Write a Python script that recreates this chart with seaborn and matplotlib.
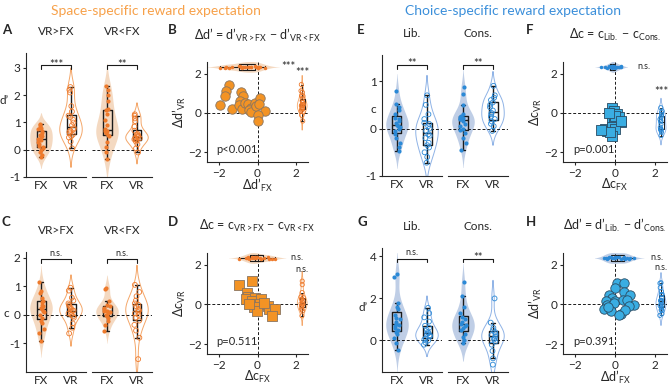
import numpy as np
import pandas as pd
import seaborn as sns
import matplotlib.pyplot as plt

sns.set_theme(style="ticks")
plt.rcParams["font.family"] = ["Lato", "DejaVu Sans"]
plt.rcParams["mathtext.fontset"] = "custom"
plt.rcParams["mathtext.rm"] = "Lato"
plt.rcParams["mathtext.it"] = "Lato"
plt.rcParams["mathtext.fallback"] = "stixsans"
plt.rcParams["axes.linewidth"] = 0.8
np.random.seed(3)  # jitter only

# ---- data ----
# A: d' (space-specific)
a_gt_fx = [-0.28, -0.2, -0.1, 0.0, 0.05, 0.1, 0.15, 0.2, 0.3, 0.35, 0.4, 0.45, 0.5, 0.55, 0.6, 0.7, 0.75, 0.8, 0.85, 0.9, 0.95]
a_gt_vr = [0.05, 0.3, 0.45, 0.5, 0.55, 0.6, 0.65, 0.7, 0.75, 0.8, 0.9, 1.0, 1.1, 1.2, 1.25, 1.4, 1.6, 2.1, 2.2, 2.3]
a_lt_fx = [-0.35, -0.1, 0.1, 0.3, 0.5, 0.55, 0.6, 0.65, 0.7, 0.7, 0.75, 0.9, 1.1, 1.3, 1.45, 1.5, 1.8, 2.0, 2.2, 2.35]
a_lt_vr = [-0.1, 0.05, 0.2, 0.3, 0.35, 0.38, 0.4, 0.42, 0.45, 0.47, 0.5, 0.52, 0.55, 0.58, 0.7, 0.85, 1.05, 1.15, 1.25, 1.3]
# C: c (space-specific)
c_gt_fx = [-0.9, -0.65, -0.5, -0.3, -0.2, -0.1, 0.0, 0.1, 0.15, 0.2, 0.25, 0.3, 0.35, 0.45, 0.5, 0.6, 0.75, 0.85, 1.15]
c_gt_vr = [-0.65, -0.45, -0.3, -0.1, -0.05, 0.0, 0.05, 0.1, 0.15, 0.15, 0.2, 0.25, 0.3, 0.35, 0.4, 0.5, 0.6, 0.85, 0.95]
c_lt_fx = [-0.55, -0.35, -0.2, -0.1, -0.05, 0.0, 0.05, 0.1, 0.15, 0.15, 0.2, 0.25, 0.3, 0.35, 0.5, 0.9, 0.95]
c_lt_vr = [-1.55, -0.8, -0.55, -0.35, -0.2, -0.1, 0.0, 0.05, 0.1, 0.15, 0.2, 0.3, 0.35, 0.4, 0.5, 0.65, 0.8, 1.05]
# E: c (choice-specific)
e_lib_fx = [-0.48, -0.38, -0.3, -0.2, -0.12, -0.05, 0.0, 0.03, 0.05, 0.08, 0.12, 0.15, 0.2, 0.22, 0.3, 0.4, 0.45, 0.52, 0.8]
e_lib_vr = [-0.72, -0.6, -0.5, -0.4, -0.35, -0.3, -0.2, -0.15, -0.12, -0.05, 0.0, 0.05, 0.1, 0.12, 0.2, 0.3, 0.5, 0.7]
e_con_fx = [-0.45, -0.3, -0.2, -0.1, -0.03, 0.0, 0.05, 0.1, 0.15, 0.2, 0.2, 0.22, 0.25, 0.27, 0.3, 0.5, 0.72, 0.88]
e_con_vr = [-0.05, 0.05, 0.1, 0.15, 0.2, 0.25, 0.3, 0.33, 0.38, 0.45, 0.5, 0.55, 0.6, 0.65, 0.7, 0.9]
# G: d' (choice-specific)
g_lib_fx = [-0.45, -0.1, 0.1, 0.3, 0.4, 0.5, 0.6, 0.7, 0.75, 0.8, 0.9, 1.0, 1.05, 1.2, 1.5, 1.6, 1.8, 3.0, 3.15]
g_lib_vr = [-0.2, -0.1, 0.0, 0.05, 0.1, 0.2, 0.25, 0.3, 0.35, 0.4, 0.5, 0.6, 0.7, 0.9, 1.1, 1.3, 1.55]
g_con_fx = [-0.1, 0.0, 0.15, 0.3, 0.5, 0.6, 0.7, 0.75, 0.8, 0.9, 1.0, 1.1, 1.3, 1.6, 2.1, 2.8]
g_con_vr = [-1.15, -0.85, -0.5, -0.2, -0.05, 0.05, 0.1, 0.2, 0.25, 0.3, 0.4, 0.5, 0.6, 0.85, 2.0]

# B: delta d' (FX, VR)
b_dx = [-1.47, -1.61, -1.68, -1.93, -1.33, -0.87, -0.75, -0.9, -0.96, -0.82, -0.62, -0.48, -0.36, -0.44, -0.31, -0.14, -0.1, 0.15, 0.1, 0.41, 0.03, 0.03]
b_dy = [1.45, 1.13, 0.87, 0.39, 0.22, 1.05, 0.87, 0.62, 0.39, 0.22, 0.53, 0.44, 0.27, 0.15, 0.05, 0.53, 0.36, 0.75, 0.44, 0.1, -0.12, -0.41]
# D: delta c
d_dx = [-0.93, -0.27, -0.52, -0.47, -0.6, -0.13, -0.3, -0.1, 0.2, 0.15, -0.18, -0.02, 0.53, 0.57, 0.9, 0.73, -0.43, 0.32]
d_dy = [1.0, 1.18, 0.6, 0.38, 0.27, 0.35, 0.18, 0.02, 0.27, 0.02, -0.12, -0.32, -0.07, -0.23, -0.23, -0.57, 0.05, 0.1]
# F: delta c (choice)
f_dx = [-0.15, -0.07, 0.1, 0.18, -0.15, 0.32, -0.07, -0.52, -0.4, -0.15, 0.02, -0.15, -0.23, -0.02, -0.32, -0.7, 0.3]
f_dy = [0.27, 0.1, -0.07, -0.23, -0.32, -0.45, -0.57, -0.82, -0.9, -0.73, -0.82, -1.15, -0.98, -0.15, 0.02, -0.85, -0.4]
# H: delta d' (choice)
h_dx = [0.1, 0.47, -0.02, 0.43, -0.3, -0.15, 0.75, 0.02, -0.47, 0.4, 0.6, 0.97, -0.38, -0.07, 0.68, -0.55, -0.18, 0.32, 0.48, 0.18, -0.35]
h_dy = [1.1, 1.07, 0.85, 0.65, 0.5, 0.34, 0.5, 0.18, 0.18, 0.21, 0.21, -0.02, -0.02, 0.1, -0.07, -0.23, -0.31, -0.47, -0.28, -0.55, -0.15]

ORANGE = dict(fill="#fcd9b8", line="#f4a76a", dot="#ee7a2c", scatter="#f39324", edge="#8a7560", title="#f7a14a")
BLUE = dict(fill="#b9cdec", line="#8fb3e6", dot="#2b89d6", scatter="#3aade2", edge="#2a4c64", title="#3b8fda")
ORDER = ["FX", "VR"]
W, H = 669, 387

fig = plt.figure(figsize=(W / 100, H / 100), dpi=100)


def add_ax(x0, y0, x1, y1):
    return fig.add_axes([x0 / W, 1 - y1 / H, (x1 - x0) / W, (y1 - y0) / H])


def open_circles(ax, n0, color):
    for c in ax.collections[n0:]:
        c.set_facecolor("none")
        c.set_edgecolor(color)
        c.set_linewidth(0.6)


def pair(ax, fx, vr, pal, title, sig, sig_y, ylim, first, ylabel=None, yticks=None, lab_xy=None):
    d_fx = pd.DataFrame({"cond": "FX", "val": fx})
    d_vr = pd.DataFrame({"cond": "VR", "val": vr})
    both = pd.concat([d_fx, d_vr])
    sns.violinplot(data=d_fx, x="cond", y="val", order=ORDER, color=pal["fill"], linewidth=0,
                   inner=None, cut=2, width=0.75, ax=ax)
    sns.violinplot(data=d_vr, x="cond", y="val", order=ORDER, fill=False, color=pal["line"],
                   linewidth=0.7, inner=None, cut=2, width=0.75, ax=ax)
    sns.stripplot(data=d_fx, x="cond", y="val", order=ORDER, color=pal["dot"], size=3, jitter=0.1, ax=ax)
    n0 = len(ax.collections)
    sns.stripplot(data=d_vr, x="cond", y="val", order=ORDER, color=pal["dot"], size=3.5, jitter=0.1, ax=ax)
    open_circles(ax, n0, pal["dot"])
    sns.boxplot(data=both, x="cond", y="val", order=ORDER, fill=False, color="k", linecolor="k",
                linewidth=1, width=0.3, showfliers=False, ax=ax)
    ax.axhline(0, ls=(0, (3, 2)), color="k", lw=0.7)
    h = (ylim[1] - ylim[0]) * 0.03
    ax.plot([0, 0, 1, 1], [sig_y - h, sig_y, sig_y, sig_y - h], color="k", lw=0.8)
    if sig == "n.s.":
        ax.text(0.5, sig_y + h * 0.4, sig, ha="center", va="bottom", fontsize=6.5)
    else:
        ax.text(0.5, sig_y + h * 0.3, sig, ha="center", va="center", fontsize=8)
    ax.set_xlim(-0.5, 1.5)
    ax.set_ylim(*ylim)
    ax.set_xlabel("")
    ax.set_title(title, fontsize=8.5, pad=13)
    ax.tick_params(axis="x", length=0, labelsize=8.5, pad=2)
    ax.tick_params(axis="y", length=2.5, width=0.8, labelsize=8.5, pad=1.5, direction="out")
    if first:
        sns.despine(ax=ax)
        ax.set_yticks(yticks)
        ax.set_yticklabels([f"{t:g}" for t in yticks])
        ax.set_ylabel(ylabel, rotation=0, fontsize=8.5, ha="center", va="center")
        ax.yaxis.set_label_coords(*lab_xy)
    else:
        sns.despine(ax=ax, left=True)
        ax.set_yticks([])
        ax.set_ylabel("")


def scatter(ax, dx, dy, pal, marker, title, xlabel, ylabel, ptxt, top_sig, right_sig, right_sig_y):
    dx = np.asarray(dx)
    dy = np.asarray(dy)
    top = np.full(len(dx), 2.35)
    right = np.full(len(dy), 2.3)
    ax.axhline(0, ls=(0, (3, 2)), color="k", lw=0.7)
    ax.axvline(0, ls=(0, (3, 2)), color="k", lw=0.7)
    # top marginal: FX differences
    sns.violinplot(x=dx, y=top, orient="y", native_scale=True, color=pal["fill"], linewidth=0,
                   inner=None, cut=2, width=0.55, ax=ax)
    sns.stripplot(x=dx, y=top, orient="y", native_scale=True, color=pal["dot"], size=2.5,
                  jitter=0.05, ax=ax)
    sns.boxplot(x=dx, y=top, orient="y", native_scale=True, fill=False, color="k", linecolor="k",
                linewidth=0.8, width=0.28, showfliers=False, ax=ax)
    # right marginal: VR differences
    sns.violinplot(x=right, y=dy, orient="x", native_scale=True, fill=False, color=pal["line"],
                   linewidth=0.6, inner=None, cut=2, width=0.5, ax=ax)
    n0 = len(ax.collections)
    sns.stripplot(x=right, y=dy, orient="x", native_scale=True, color=pal["dot"], size=3,
                  jitter=0.06, ax=ax)
    open_circles(ax, n0, pal["dot"])
    sns.boxplot(x=right, y=dy, orient="x", native_scale=True, fill=False, color="k", linecolor="k",
                linewidth=0.7, width=0.25, showfliers=False, ax=ax)
    sns.scatterplot(x=dx, y=dy, marker=marker, s=46, color=pal["scatter"], edgecolor=pal["edge"],
                    linewidth=0.6, ax=ax, zorder=3)
    ax.set_xlim(-2.6, 2.6)
    ax.set_ylim(-2.5, 2.6)
    ax.set_xticks([-2, 0, 2])
    ax.set_yticks([-2, 0, 2])
    sns.despine(ax=ax)
    ax.tick_params(length=2.5, width=0.8, labelsize=8.5, pad=1.5, direction="out")
    ax.set_xlabel(xlabel, fontsize=9, labelpad=-1)
    ax.set_ylabel(ylabel, fontsize=9, labelpad=0)
    ax.text(0.5, 1.27, title, transform=ax.transAxes, ha="center", va="center", fontsize=9)
    ax.text(-2.1, -1.85, ptxt, fontsize=8, va="center")
    ax.text(np.max(dx) + 0.8, 2.38, top_sig, fontsize=6.5 if top_sig == "n.s." else 8,
            va="center", ha="left")
    ax.text(2.3, right_sig_y, right_sig, fontsize=6.5 if right_sig == "n.s." else 8,
            va="center", ha="center")


# ---- panels ----
a1 = add_ax(26, 53, 86, 177)
a2 = add_ax(92, 53, 152, 177)
pair(a1, a_gt_fx, a_gt_vr, ORANGE, "VR>FX", "***", 3.1, (-1, 3.55), True, "d’", [-1, 0, 1, 2, 3], (-0.36, 0.62))
pair(a2, a_lt_fx, a_lt_vr, ORANGE, "VR<FX", "**", 3.1, (-1, 3.55), False)

c1 = add_ax(26, 252, 86, 372)
c2 = add_ax(92, 252, 152, 372)
pair(c1, c_gt_fx, c_gt_vr, ORANGE, "VR>FX", "n.s.", 1.95, (-2.0, 2.2), True, "c", [-1, 0, 1, 2], (-0.32, 0.49))
pair(c2, c_lt_fx, c_lt_vr, ORANGE, "VR<FX", "n.s.", 1.95, (-2.0, 2.2), False)

e1 = add_ax(382, 55, 442, 176)
e2 = add_ax(448, 55, 508, 176)
pair(e1, e_lib_fx, e_lib_vr, BLUE, "Lib.", "**", 1.34, (-1, 1.55), True, "c", [-1, 0, 1], (-0.15, 0.55))
pair(e2, e_con_fx, e_con_vr, BLUE, "Cons.", "**", 1.34, (-1, 1.55), False)

g1 = add_ax(382, 248, 442, 372)
g2 = add_ax(448, 248, 508, 372)
pair(g1, g_lib_fx, g_lib_vr, BLUE, "Lib.", "n.s.", 3.9, (-1.5, 4.4), True, "d’", [0, 2, 4], (-0.32, 0.52))
pair(g2, g_con_fx, g_con_vr, BLUE, "Cons.", "**", 3.9, (-1.5, 4.4), False)

b = add_ax(207, 62, 308, 162)
scatter(b, b_dx, b_dy, ORANGE, "o", "Δd’ = d’$_{\\mathrm{VR>FX}}$ − d’$_{\\mathrm{VR<FX}}$",
        "Δd’$_{\\mathrm{FX}}$", "Δd’$_{\\mathrm{VR}}$", "p<0.001", "***", "***", 2.05)
d = add_ax(207, 253, 308, 354)
scatter(d, d_dx, d_dy, ORANGE, "s", "Δc = c$_{\\mathrm{VR>FX}}$ − c$_{\\mathrm{VR<FX}}$",
        "Δc$_{\\mathrm{FX}}$", "Δc$_{\\mathrm{VR}}$", "p=0.511", "n.s.", "n.s.", 1.75)
f = add_ax(563, 62, 667, 162)
scatter(f, f_dx, f_dy, BLUE, "s", "Δc = c$_{\\mathrm{Lib.}}$ − c$_{\\mathrm{Cons.}}$",
        "Δc$_{\\mathrm{FX}}$", "Δc$_{\\mathrm{VR}}$", "p=0.001", "n.s.", "***", 1.1)
hh = add_ax(563, 253, 667, 354)
scatter(hh, h_dx, h_dy, BLUE, "o", "Δd’ = d’$_{\\mathrm{Lib.}}$ − d’$_{\\mathrm{Cons.}}$",
        "Δd’$_{\\mathrm{FX}}$", "Δd’$_{\\mathrm{VR}}$", "p=0.391", "n.s.", "n.s.", 1.85)

# headers and panel letters
fig.text(156 / W, 1 - 11 / H, "Space-specific reward expectation", color=ORANGE["title"],
         ha="center", va="center", fontsize=10)
fig.text(513 / W, 1 - 11 / H, "Choice-specific reward expectation", color=BLUE["title"],
         ha="center", va="center", fontsize=10)
for lab, x, y in [("A", 2, 30), ("B", 168, 30), ("E", 357, 30), ("F", 526, 30),
                  ("C", 2, 222), ("D", 168, 222), ("G", 357, 222), ("H", 526, 222)]:
    fig.text(x / W, 1 - y / H, lab, fontsize=9.5, fontweight="bold", va="center")

fig.savefig("out.png", dpi=100)
